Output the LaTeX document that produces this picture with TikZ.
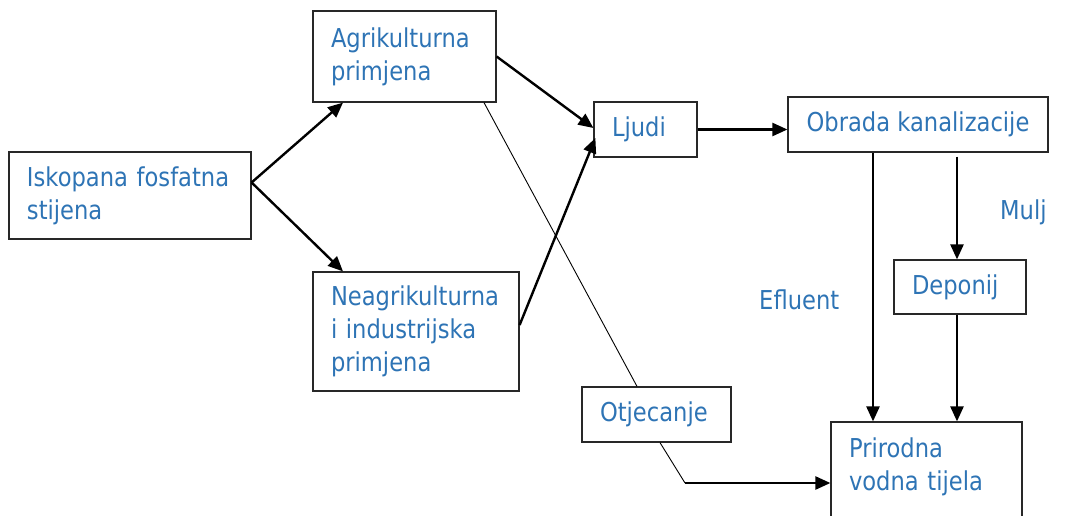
\documentclass[tikz,border=0pt]{standalone}
\usepackage{fontspec}
\setmainfont{DejaVu Sans}[FakeStretch=0.87]
\usetikzlibrary{arrows.meta,calc}
\definecolor{txtblue}{RGB}{46,116,181}
\definecolor{edgecol}{RGB}{40,40,40}
\begin{document}
\hyphenpenalty=10000
\exhyphenpenalty=10000
\begin{tikzpicture}[x=1pt,y=-1pt,
  box/.style={draw=edgecol, line width=1.2pt, rectangle, inner xsep=18pt, inner ysep=0pt,
    align=left, text=txtblue, font=\fontsize{26}{33}\selectfont},
  lbl/.style={text=txtblue, font=\fontsize{26}{33}\selectfont, inner sep=0pt, anchor=base west},
  flow/.style={line width=2.4pt, -{Triangle[length=15pt,width=13pt]}},
  thinline/.style={line width=0.9pt}]
\useasboundingbox (0,0) rectangle (1071,516);
\clip (0,0) rectangle (1071,516);
% boxes
\node[box, minimum width=242pt, minimum height=87pt, text width=206pt] (iskop) at (130,195.5) {Iskopana fosfatna\\stijena};
\node[box, minimum width=183pt, minimum height=91pt, text width=147pt] (agri) at (404.5,56.5) {Agrikulturna\\primjena};
\node[box, minimum width=206pt, minimum height=119pt, text width=170pt] (neagri) at (416,331.5) {Neagrikulturna\\i industrijska\\primjena};
\node[box, minimum width=103pt, minimum height=55pt, text width=67pt] (ljudi) at (645.5,129.5) {Ljudi};
\node[box, minimum width=260pt, minimum height=55pt, inner xsep=4pt] (obrada) at (918,124.5) {Obrada kanalizacije};
\node[box, minimum width=132pt, minimum height=54pt, text width=96pt] (dep) at (960,287) {Deponij};
\node[box, minimum width=149pt, minimum height=55pt, text width=113pt] (otj) at (656.5,414.5) {Otjecanje};
\node[box, minimum width=191pt, minimum height=108pt, text width=155pt, text depth=57pt] (prir) at (926.5,476) {Prirodna\\vodna tijela};
% labels
\node[lbl] (mulj) at (1000,219) {Mulj};
\node[lbl] (efl) at (759,309) {Efluent};
% connectors
\draw[flow] ([yshift=13pt]iskop.east) -- ([xshift=-61.5pt]agri.south);
\draw[flow] ([yshift=13pt]iskop.east) -- ([xshift=-73pt]neagri.north);
\draw[flow] (agri.east) -- ([yshift=1.5pt]ljudi.west);
\draw[flow] ([yshift=6.5pt]neagri.east) -- ([xshift=2pt,yshift=-8.5pt]ljudi.west);
\draw[thinline] ([xshift=79.5pt]agri.south) -- ([xshift=-19.5pt]otj.north);
\coordinate (bend) at (685,483);
\draw[thinline] ([xshift=3.5pt]otj.south) -- (bend);
\draw[flow] (bend) -- (bend -| prir.west);
\draw[flow] (ljudi.east) -- (ljudi.east -| obrada.west);
\draw[flow] ([xshift=-45pt]obrada.south) -- ([xshift=-45pt]obrada.south |- prir.north);
\draw[flow] ([xshift=39pt,yshift=-4pt]obrada.south) -- ([xshift=-3pt]dep.north);
\draw[flow] ([xshift=-3pt]dep.south) -- ([xshift=-3pt]dep.south |- prir.north);
\end{tikzpicture}
\end{document}
